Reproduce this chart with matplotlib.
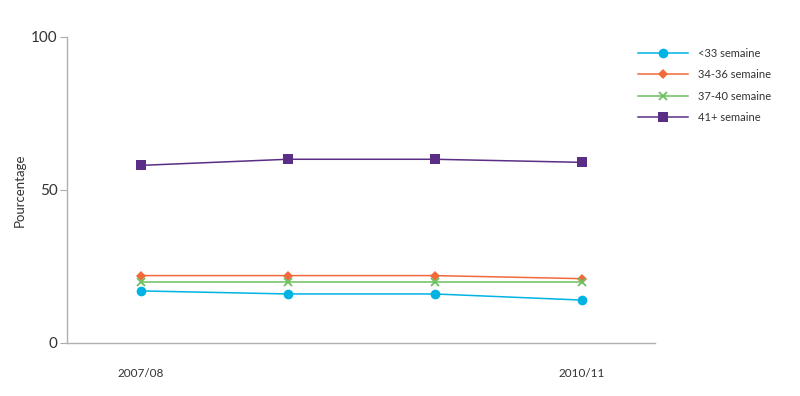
import matplotlib
matplotlib.use("Agg")
import matplotlib.pyplot as plt
import numpy as np

periods = ["2007/08", "2008/09", "2009/10", "2010/11"]
tick_labels = ["2007/08", "", "", "2010/11"]
series_names = ["<33 semaine", "34-36 semaine", "37-40 semaine", "41+ semaine"]
lt33 = [17, 16, 16, 14]
w34_36 = [22, 22, 22, 21]
w37_40 = [20, 20, 20, 20]
w41 = [58, 60, 60, 59]

plt.rcParams['font.family'] = ['Lato', 'DejaVu Sans']

fig = plt.figure(figsize=(8, 3.96), dpi=100)
ax = fig.add_axes([0.084, 0.134, 0.735, 0.773])

x = np.arange(len(periods))
styles = [
    (lt33, "#00b3e3", "o", 7),
    (w34_36, "#f26a3b", "D", 5),
    (w37_40, "#6cc05f", "x", 6),
    (w41, "#5b2e86", "s", 6.5),
]
for (vals, col, mk, ms), name in zip(styles, series_names):
    ax.plot(x, vals, color=col, marker=mk, markersize=ms, linewidth=1.1,
            markeredgewidth=1.3 if mk == "x" else 0, label=name)

ax.set_xlim(-0.5, 3.5)
ax.set_ylim(0, 100)
ax.set_yticks([0, 50, 100])
ax.set_xticks(x)
ax.set_xticklabels(tick_labels)
ax.tick_params(axis='x', length=0, pad=18, labelsize=8.5, colors="#333333")
ax.tick_params(axis='y', length=5, width=0.8, color="#aaaaaa", pad=2, labelsize=11, labelcolor="#333333")
for s in ["top", "right"]:
    ax.spines[s].set_visible(False)
for s in ["left", "bottom"]:
    ax.spines[s].set_color("#b0b0b0")
    ax.spines[s].set_linewidth(1)
ax.set_ylabel("Pourcentage", fontsize=9.5, color="#333333", labelpad=4)

leg = fig.legend(loc="upper left", bbox_to_anchor=(0.785, 0.905), frameon=False,
                 fontsize=8, handlelength=4.5, labelspacing=0.95, handletextpad=0.9,
                 labelcolor="#333333")

fig.savefig("out.png", dpi=100)
